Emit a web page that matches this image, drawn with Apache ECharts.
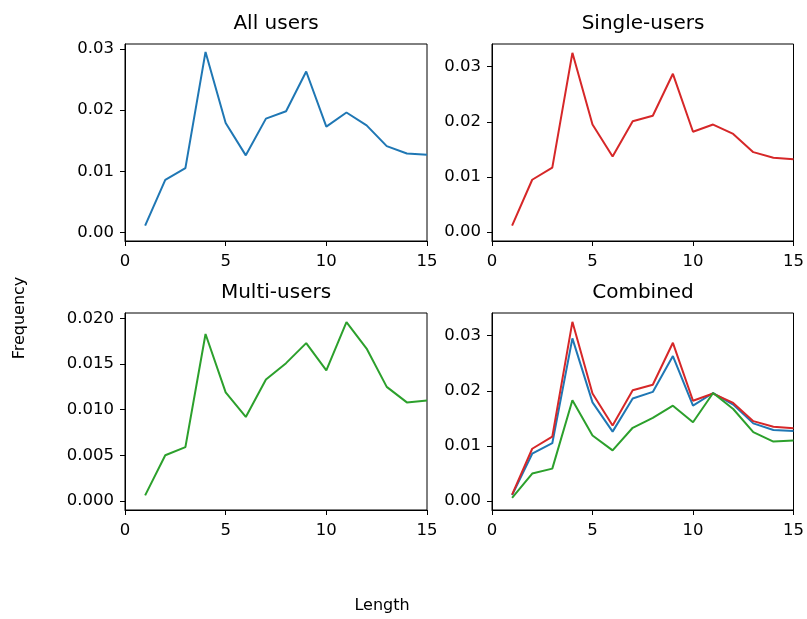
<!DOCTYPE html>
<html>
<head>
<meta charset="utf-8">
<script src="https://cdn.jsdelivr.net/npm/echarts@6/dist/echarts.min.js"></script>
<style>
  html, body { margin: 0; padding: 0; background: #fff; }
  #chart { width: 807px; height: 619px; }
</style>
</head>
<body>
<div id="chart"></div>
<script>
// sequence length 1..15
const lengths = [1, 2, 3, 4, 5, 6, 7, 8, 9, 10, 11, 12, 13, 14, 15]
const allUsers = [0.0011, 0.0086, 0.0105, 0.0295, 0.0179, 0.0126, 0.0186, 0.0198, 0.0263, 0.0173, 0.0196, 0.0175, 0.0141, 0.0129, 0.0127]
const singleUsers = [0.0012, 0.0095, 0.0117, 0.0325, 0.0195, 0.0137, 0.0201, 0.0211, 0.0287, 0.0182, 0.0195, 0.0178, 0.0145, 0.0135, 0.0132]
const multiUsers = [0.0006, 0.0050, 0.0059, 0.0183, 0.0119, 0.0092, 0.0133, 0.0151, 0.0173, 0.0143, 0.0196, 0.0167, 0.0125, 0.0108, 0.0110]
const xTicks = [0, 5, 10, 15]
const yTicks3 = [0, 0.01, 0.02, 0.03]
const yTicks2 = [0, 0.005, 0.01, 0.015, 0.02]
const titles = ['All users', 'Single-users', 'Multi-users', 'Combined']

const BLUE = '#1f77b4'
const RED = '#d62728'
const GREEN = '#2ca02c'
const FONT = 'DejaVu Sans'

const chart = echarts.init(document.getElementById('chart'))

const pairs = vals => lengths.map((x, i) => [x, vals[i]])

const grids = [
  { left: 125, top: 44, width: 302, height: 197 },
  { left: 492, top: 44, width: 302, height: 197 },
  { left: 125, top: 313, width: 302, height: 197 },
  { left: 492, top: 313, width: 302, height: 197 }
]
const yRanges = [[-0.0014, 0.0308], [-0.0016, 0.0341], [-0.001, 0.0206], [-0.0016, 0.0341]]
const yTickSets = [yTicks3, yTicks3, yTicks2, yTicks3]
const yDigits = [2, 2, 3, 2]

function xAxis(i) {
  return {
    type: 'value', gridIndex: i, min: 0, max: 15, interval: 5,
    axisLine: { show: true, onZero: false, lineStyle: { color: '#000', width: 1 } },
    axisTick: { show: true, length: 5, lineStyle: { color: '#000' } },
    axisLabel: { color: '#000', fontSize: 16.5, fontFamily: FONT, margin: 12,
      customValues: xTicks, formatter: v => String(v) },
    splitLine: { show: false }
  }
}
function yAxis(i) {
  return {
    type: 'value', gridIndex: i, min: yRanges[i][0], max: yRanges[i][1],
    axisLine: { show: true, onZero: false, lineStyle: { color: '#000', width: 1 } },
    axisTick: { show: true, length: 5, lineStyle: { color: '#000' }, customValues: yTickSets[i] },
    axisLabel: { color: '#000', fontSize: 16.5, fontFamily: FONT, margin: 11,
      customValues: yTickSets[i], formatter: v => v.toFixed(yDigits[i]) },
    splitLine: { show: false }
  }
}
function line(i, data, color) {
  return {
    type: 'line', xAxisIndex: i, yAxisIndex: i, data: pairs(data),
    showSymbol: false, silent: true, animation: false,
    lineStyle: { color: color, width: 2 }
  }
}

const graphic = titles.map((t, i) => ({
  type: 'text',
  x: grids[i].left + grids[i].width / 2,
  y: grids[i].top - 20,
  style: { text: t, font: '20px "DejaVu Sans"', fill: '#000', textAlign: 'center', textVerticalAlign: 'middle' }
}))
graphic.push({
  type: 'text', x: 20, y: 318, rotation: Math.PI / 2,
  style: { text: 'Frequency', font: '16px "DejaVu Sans"', fill: '#000', textAlign: 'center', textVerticalAlign: 'middle' }
})
graphic.push({
  type: 'text', x: 382, y: 606,
  style: { text: 'Length', font: '16px "DejaVu Sans"', fill: '#000', textAlign: 'center', textVerticalAlign: 'middle' }
})

chart.setOption({
  animation: false,
  backgroundColor: '#fff',
  grid: grids.map(g => Object.assign({ show: true, borderColor: '#000', borderWidth: 1, backgroundColor: 'transparent' }, g)),
  xAxis: [0, 1, 2, 3].map(xAxis),
  yAxis: [0, 1, 2, 3].map(yAxis),
  series: [
    line(0, allUsers, BLUE),
    line(1, singleUsers, RED),
    line(2, multiUsers, GREEN),
    line(3, allUsers, BLUE),
    line(3, singleUsers, RED),
    line(3, multiUsers, GREEN)
  ],
  graphic: graphic
})
</script>
</body>
</html>
